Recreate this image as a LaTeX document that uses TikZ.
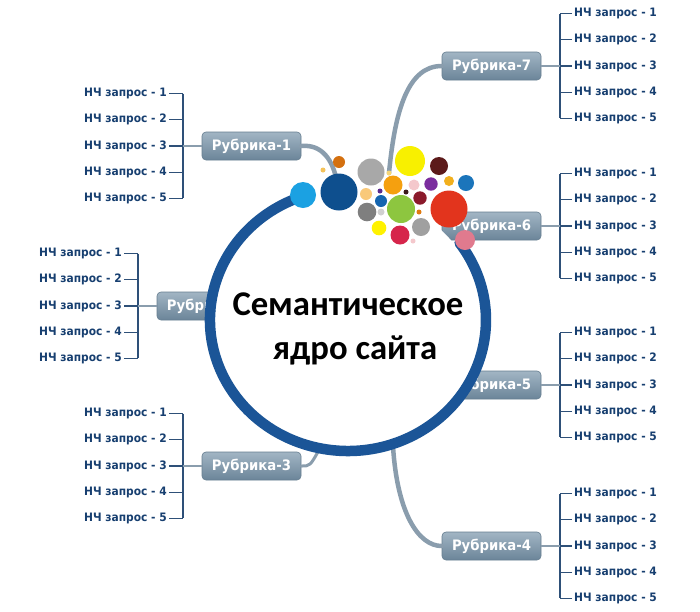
\documentclass[tikz,border=0pt]{standalone}
\usepackage{fontspec}
\newfontfamily\lblfont[FakeStretch=0.92]{DejaVu Sans}
\newfontfamily\titlefont{Carlito}
\definecolor{itemblue}{HTML}{173F70}
\definecolor{brkcol}{HTML}{2E5078}
\definecolor{rubtop}{HTML}{A2B5C4}
\definecolor{rubbot}{HTML}{6B8599}
\definecolor{rubedge}{HTML}{667E90}
\definecolor{linkgray}{HTML}{8A9DAD}
\definecolor{ringblue}{HTML}{1B5597}
\begin{document}
\begin{tikzpicture}[x=1pt,y=-1pt,
  item/.style={font=\lblfont\bfseries\fontsize{11.6}{13}\selectfont, text=itemblue, inner sep=2pt},
  rub/.style={rounded corners=4pt, minimum width=99pt, minimum height=28pt, inner sep=0pt,
    top color=rubtop, bottom color=rubbot, draw=rubedge, line width=0.6pt, text=white,
    font=\lblfont\bfseries\fontsize{14.4}{16}\selectfont},
  brk/.style={draw=brkcol, line width=1.3pt},
  link/.style={draw=linkgray, line width=2pt},
  conn/.style={draw=linkgray, line width=4.5pt, line cap=round},
  ring/.style={draw=ringblue, line width=10.5pt, line cap=round},
  title/.style={font=\titlefont\bfseries\fontsize{34.7}{40}\selectfont, text=black, inner sep=0pt}]
\useasboundingbox (0,0) rectangle (700,611);
\fill[white] (0,0) rectangle (700,611);

% left groups
\foreach \g/\bx/\cy/\kx in {1/251.5/146/183, 2/206.5/306/138, 3/251.5/466/183}{
  \node[rub] (r\g) at (\bx,\cy) {Рубрика-\g};
  \coordinate (k\g) at (\kx,\cy);
  \foreach \i in {1,...,5}{
    \node[item, anchor=east] (q\g\i) at ({\kx-14},{\cy+(\i-3)*26.2}) {НЧ запрос - \i};
    \draw[brk] (q\g\i.east) -- (k\g |- q\g\i.east);
  }
  \draw[brk] (k\g |- q\g1.east) -- (k\g |- q\g5.east);
  \draw[link] (k\g) -- (r\g.west);
}
% right groups
\foreach \g/\bx/\cy/\kx in {7/491.5/66/560, 6/491.5/226/560, 5/491.5/385/560, 4/491.5/546/560}{
  \node[rub] (r\g) at (\bx,\cy) {Рубрика-\g};
  \coordinate (k\g) at (\kx,\cy);
  \foreach \i in {1,...,5}{
    \node[item, anchor=west] (q\g\i) at ({\kx+12},{\cy+(\i-3)*26.2}) {НЧ запрос - \i};
    \draw[brk] (q\g\i.west) -- (k\g |- q\g\i.west);
  }
  \draw[brk] (k\g |- q\g1.west) -- (k\g |- q\g5.west);
  \draw[link] (r\g.east) -- (k\g);
}

% connector end points
\coordinate (bDark) at (337,182);
\coordinate (b7end) at (389,173);
\coordinate (ringR3) at (319,450);
\coordinate (ringR4) at (393,446);

\draw[conn] (r1.east) .. controls (322,144) and (333,160) .. (bDark);
\draw[conn] (r7.west) .. controls (408,66) and (395,110) .. (b7end);
\draw[conn, line width=3pt] (r3.east) .. controls (310,466) .. (ringR3);
\draw[conn] (ringR4) .. controls (397,512) and (418,546) .. (r4.west);

% circle interior and ring
\fill[white] (348,320) ellipse[x radius=133, y radius=126];
\draw[ring] (459.6,243.0) arc[start angle=-36, end angle=251, x radius=138, y radius=131];

% bubbles
\foreach \x/\y/\r/\c in {
  339/162/6/D4700F, 323/170/2.5/F5C35A, 339/192/18.5/0E4F8E, 303/195/13/1BA1E2,
  371/172/13.5/A8A8A8, 410/161/15/F8F000, 439/166/9/5C1A1A, 389/173/2.5/F5D67A,
  393/185/9.5/F5A00F, 414/185/5.5/F4C8CC, 431/184/6.7/7B2D9E, 449/181/5/F2B01E,
  466/183/8/1B75BB, 366/194/6/F9C97A, 380/191/2.5/5B2C8F, 406/192/2.5/3B1A1A,
  381/201/6/1565B0, 401/209/14/8DC63F, 420/198/6.7/8B1A2B, 449/209/18.5/E2341D,
  419/212/2.5/E07B10, 367/212/9.3/7F7F7F, 381/212/3.5/D0D0D0, 379/228/7.3/FFF200,
  400/235/9.5/D6254B, 421/227/9/A0A0A0, 413/241/2.5/F4C8CC, 465/240/10/E07A8E}{
  \definecolor{bc}{HTML}{\c}
  \fill[bc] (\x,\y) circle[radius=\r];
}

% title
\node[title, anchor=base] (t1) at (348,315) {Семантическое};
\node[title, anchor=base] (t2) at (355,359) {ядро сайта};
\end{tikzpicture}
\end{document}
